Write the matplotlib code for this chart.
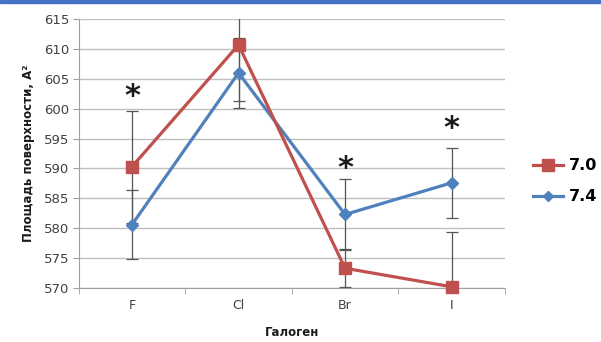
import matplotlib
matplotlib.use("Agg")
import matplotlib.pyplot as plt
from matplotlib.patches import Rectangle
from matplotlib.lines import Line2D

categories = ["F", "Cl", "Br", "I"]
ph70 = [590.3, 610.7, 573.3, 570.2]
ph70_err = [9.4, 9.4, 3.2, 9.2]
ph74 = [580.6, 606.0, 582.3, 587.6]
ph74_err = [5.8, 5.8, 5.9, 5.9]
star_idx = [0, 2, 3]
star_y = [602.0, 590.0, 596.7]
yticks = [570, 575, 580, 585, 590, 595, 600, 605, 610, 615]

red = "#C0504D"
blue = "#4F81BD"

fig = plt.figure(figsize=(6.01, 3.42), dpi=100)
ax = fig.add_axes([0.131, 0.158, 0.709, 0.786])
x = list(range(len(categories)))

ax.set_ylim(570, 615)
ax.set_xlim(-0.5, 3.5)
ax.set_yticks(yticks)
ax.grid(axis="y", color="#BFBFBF", lw=1.0)
ax.set_axisbelow(True)

ax.errorbar(x, ph70, yerr=ph70_err, fmt="none", ecolor="#555555", elinewidth=0.9, capsize=4, capthick=0.9, zorder=2)
ax.errorbar(x, ph74, yerr=ph74_err, fmt="none", ecolor="#555555", elinewidth=0.9, capsize=4, capthick=0.9, zorder=2)
ax.plot(x, ph70, color=red, lw=2.3, marker="s", ms=9, mfc=red, mec=red, zorder=4, clip_on=False)
ax.plot(x, ph74, color=blue, lw=2.3, marker="D", ms=6.5, mfc=blue, mec=blue, zorder=3, clip_on=False)

for i, yv in zip(star_idx, star_y):
    ax.text(i, yv, "*", ha="center", va="center", fontsize=22, fontweight="bold", color="#1a1a1a")

ax.set_xticks(x)
ax.set_xticklabels(categories)
ax.set_xticks([-0.5, 0.5, 1.5, 2.5, 3.5], minor=True)
ax.tick_params(axis="x", which="major", length=0, labelsize=9, colors="#404040", pad=8)
ax.tick_params(axis="x", which="minor", length=4, color="#A0A0A0", direction="out")
ax.tick_params(axis="y", length=4, color="#A0A0A0", labelsize=9.5, colors="#404040", pad=3)

for s in ["top", "right"]:
    ax.spines[s].set_visible(False)
ax.spines["left"].set_color("#A0A0A0")
ax.spines["bottom"].set_color("#A0A0A0")

ax.set_ylabel("Площадь поверхности, A²", fontsize=8.5, fontweight="bold", color="#1a1a1a", labelpad=6)
ax.set_xlabel("Галоген", fontsize=8.5, fontweight="bold", color="#1a1a1a", labelpad=10)

handles = [
    Line2D([], [], color=red, lw=2.3, marker="s", ms=8),
    Line2D([], [], color=blue, lw=2.3, marker="D", ms=5),
]
fig.legend(handles, ["7.0", "7.4"], loc="center left", bbox_to_anchor=(0.887, 0.47),
           frameon=False, borderpad=0, borderaxespad=0, handlelength=1.9, handletextpad=0.35,
           labelspacing=1.0, prop={"size": 11.5, "weight": "bold"})

fig.patches.append(Rectangle((0, 0.99), 1, 0.01, transform=fig.transFigure, color="#4472C4", zorder=10))

fig.savefig("out.png", dpi=100)
